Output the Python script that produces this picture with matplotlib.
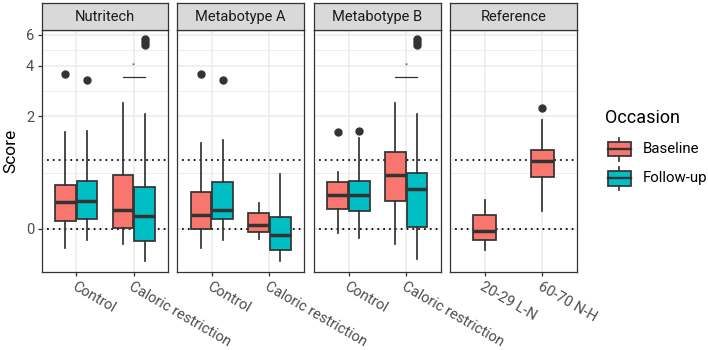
import matplotlib

matplotlib.use("Agg")
import matplotlib.pyplot as plt
import numpy as np
from matplotlib.patches import Rectangle

PANELS = ["Nutritech", "Metabotype A", "Metabotype B", "Reference"]
GROUPS = [
    ["Control", "Caloric restriction"],
    ["Control", "Caloric restriction"],
    ["Control", "Caloric restriction"],
    ["20-29 L-N", "60-70 N-H"],
]
OCCASIONS = ["Baseline", "Follow-up"]

# baseline boxes: panel by panel, group by group (8 boxes)
BASE_LOW = [-0.25, -0.19, -0.25, -0.13, -0.055, -0.19, -0.27, 0.23]
BASE_Q1 = [0.10, 0.01, 0.0, -0.04, 0.26, 0.36, -0.14, 0.72]
BASE_MED = [0.35, 0.25, 0.18, 0.05, 0.45, 0.74, -0.03, 0.99]
BASE_Q3 = [0.59, 0.75, 0.49, 0.20, 0.64, 1.16, 0.18, 1.19]
BASE_HIGH = [1.59, 2.43, 1.34, 0.34, 0.80, 2.42, 0.38, 1.90]
BASE_OUT = [[3.57], [], [3.57], [], [1.59], [], [], [2.24]]

# follow-up boxes: intervention panels only (6 boxes)
FOLLOW_LOW = [-0.14, -0.42, -0.14, -0.42, -0.12, -0.39]
FOLLOW_Q1 = [0.13, -0.155, 0.13, -0.28, 0.23, 0.03]
FOLLOW_MED = [0.37, 0.16, 0.24, -0.08, 0.45, 0.53]
FOLLOW_Q3 = [0.65, 0.56, 0.64, 0.15, 0.65, 0.78]
FOLLOW_HIGH = [1.61, 2.07, 1.41, 0.76, 1.44, 2.07]
FOLLOW_OUT = [[3.31], [5.23, 5.47, 5.63], [3.29], [], [1.61], [5.23, 5.47, 5.63]]

REF_LINES = [0, 1]
Y_TICKS = [0, 2, 4, 6]
Y_LIMITS = (-0.577, 6.37)
SIG_PANELS = [0, 2]
SIG_LINE = 3.42
SIG_STAR = 3.97

COLORS = {"Baseline": "#F8766D", "Follow-up": "#00BFC4"}
DARK = "#333333"
GRID = "#EBEBEB"

W, H = 708, 350
PANEL_LEFT = [41.7, 177.3, 314.0, 450.0]
PANEL_W = 126.7
PANEL_TOP, PANEL_BOTTOM = 30.0, 271.7
STRIP_TOP = 3.3

plt.rcParams["font.family"] = ["Roboto", "DejaVu Sans"]


def px_axes(fig, x0, y0, x1, y1):
    return fig.add_axes([x0 / W, 1 - y1 / H, (x1 - x0) / W, (y1 - y0) / H])


def box_stats(low, q1, med, q3, high, out):
    return [
        dict(whislo=a, q1=b, med=c, q3=d, whishi=e, fliers=np.array(f))
        for a, b, c, d, e, f in zip(low, q1, med, q3, high, out)
    ]


def draw_boxes(ax, stats, positions, width, color):
    ax.bxp(
        stats,
        positions=positions,
        widths=width,
        patch_artist=True,
        showcaps=False,
        boxprops=dict(facecolor=color, edgecolor=DARK, linewidth=1.25),
        medianprops=dict(color=DARK, linewidth=2.5, solid_capstyle="butt"),
        whiskerprops=dict(color=DARK, linewidth=1.25),
        flierprops=dict(marker="o", markerfacecolor=DARK, markeredgecolor=DARK,
                        markersize=5),
        zorder=3,
    )


fig = plt.figure(figsize=(W / 100, H / 100), dpi=100)

base_stats = box_stats(BASE_LOW, BASE_Q1, BASE_MED, BASE_Q3, BASE_HIGH, BASE_OUT)
follow_stats = box_stats(FOLLOW_LOW, FOLLOW_Q1, FOLLOW_MED, FOLLOW_Q3,
                         FOLLOW_HIGH, FOLLOW_OUT)

mid = np.arcsinh(Y_TICKS)
minor = np.sinh((mid[:-1] + mid[1:]) / 2)

for i, (panel, groups) in enumerate(zip(PANELS, GROUPS)):
    x0 = PANEL_LEFT[i]
    ax = px_axes(fig, x0, PANEL_TOP, x0 + PANEL_W, PANEL_BOTTOM)
    ax.set_yscale("function", functions=(np.arcsinh, np.sinh))
    ax.set_xlim(0.4, 2.6)
    ax.set_ylim(*Y_LIMITS)
    ax.set_axisbelow(True)

    pos = np.arange(1, len(groups) + 1)
    b = base_stats[2 * i: 2 * i + 2]
    if i < 3:
        f = follow_stats[2 * i: 2 * i + 2]
        draw_boxes(ax, b, pos - 0.1875, 0.36, COLORS["Baseline"])
        draw_boxes(ax, f, pos + 0.1875, 0.36, COLORS["Follow-up"])
    else:
        draw_boxes(ax, b, pos, 0.40, COLORS["Baseline"])

    for lvl in REF_LINES:
        ax.axhline(lvl, color="black", linewidth=1.4, linestyle=(0, (0.1, 2.9)),
                   dash_capstyle="round", zorder=2)

    if i in SIG_PANELS:
        ax.plot([2 - 0.1875, 2 + 0.1875], [SIG_LINE, SIG_LINE], color=DARK,
                linewidth=0.9, zorder=4)
        ax.text(2, SIG_STAR, "*", ha="center", va="baseline", fontsize=4.5,
                color=DARK, family="DejaVu Sans")

    ax.set_yticks(Y_TICKS)
    ax.set_yticklabels([str(t) for t in Y_TICKS])
    ax.set_yticks(minor, minor=True)
    ax.set_xticks(pos)
    ax.set_xticklabels(groups, rotation=-30, ha="left", va="top",
                       rotation_mode="anchor")
    ax.xaxis.set_minor_locator(matplotlib.ticker.NullLocator())
    ax.grid(True, which="major", color=GRID, linewidth=1.1)
    ax.grid(True, which="minor", axis="y", color=GRID, linewidth=0.6)
    ax.tick_params(axis="both", which="major", length=3, width=0.9,
                   color=DARK, labelcolor="#4D4D4D", labelsize=10.5, pad=2.5)
    ax.tick_params(axis="y", which="minor", length=0)
    if i > 0:
        ax.tick_params(axis="y", left=False, labelleft=False)
    else:
        ax.set_ylabel("Score", fontsize=12.5, labelpad=5)
    for sp in ax.spines.values():
        sp.set_color(DARK)
        sp.set_linewidth(0.9)

    strip = px_axes(fig, x0, STRIP_TOP, x0 + PANEL_W, PANEL_TOP)
    strip.set_facecolor("#D9D9D9")
    strip.set_xticks([])
    strip.set_yticks([])
    for sp in strip.spines.values():
        sp.set_color(DARK)
        sp.set_linewidth(0.9)
    strip.text(0.5, 0.5, panel, ha="center", va="center", fontsize=10.5,
               color="#1A1A1A", transform=strip.transAxes)

# legend drawn in pixel coordinates
leg = px_axes(fig, 600, 100, 708, 200)
leg.set_xlim(600, 708)
leg.set_ylim(200, 100)
leg.axis("off")
leg.text(605, 118, "Occasion", ha="left", va="center", fontsize=13)
for occ, yc in zip(OCCASIONS, [149, 178.3]):
    leg.plot([619, 619], [yc - 11.5, yc + 11.5], color=DARK, linewidth=1.25)
    leg.add_patch(Rectangle((607.5, yc - 7.3), 23, 14.6, facecolor=COLORS[occ],
                            edgecolor=DARK, linewidth=1.25, zorder=3))
    leg.plot([607.5, 630.5], [yc, yc], color=DARK, linewidth=1.7, zorder=4)
    leg.text(643, yc, occ, ha="left", va="center", fontsize=10.8)

fig.savefig("out.png", dpi=100)
